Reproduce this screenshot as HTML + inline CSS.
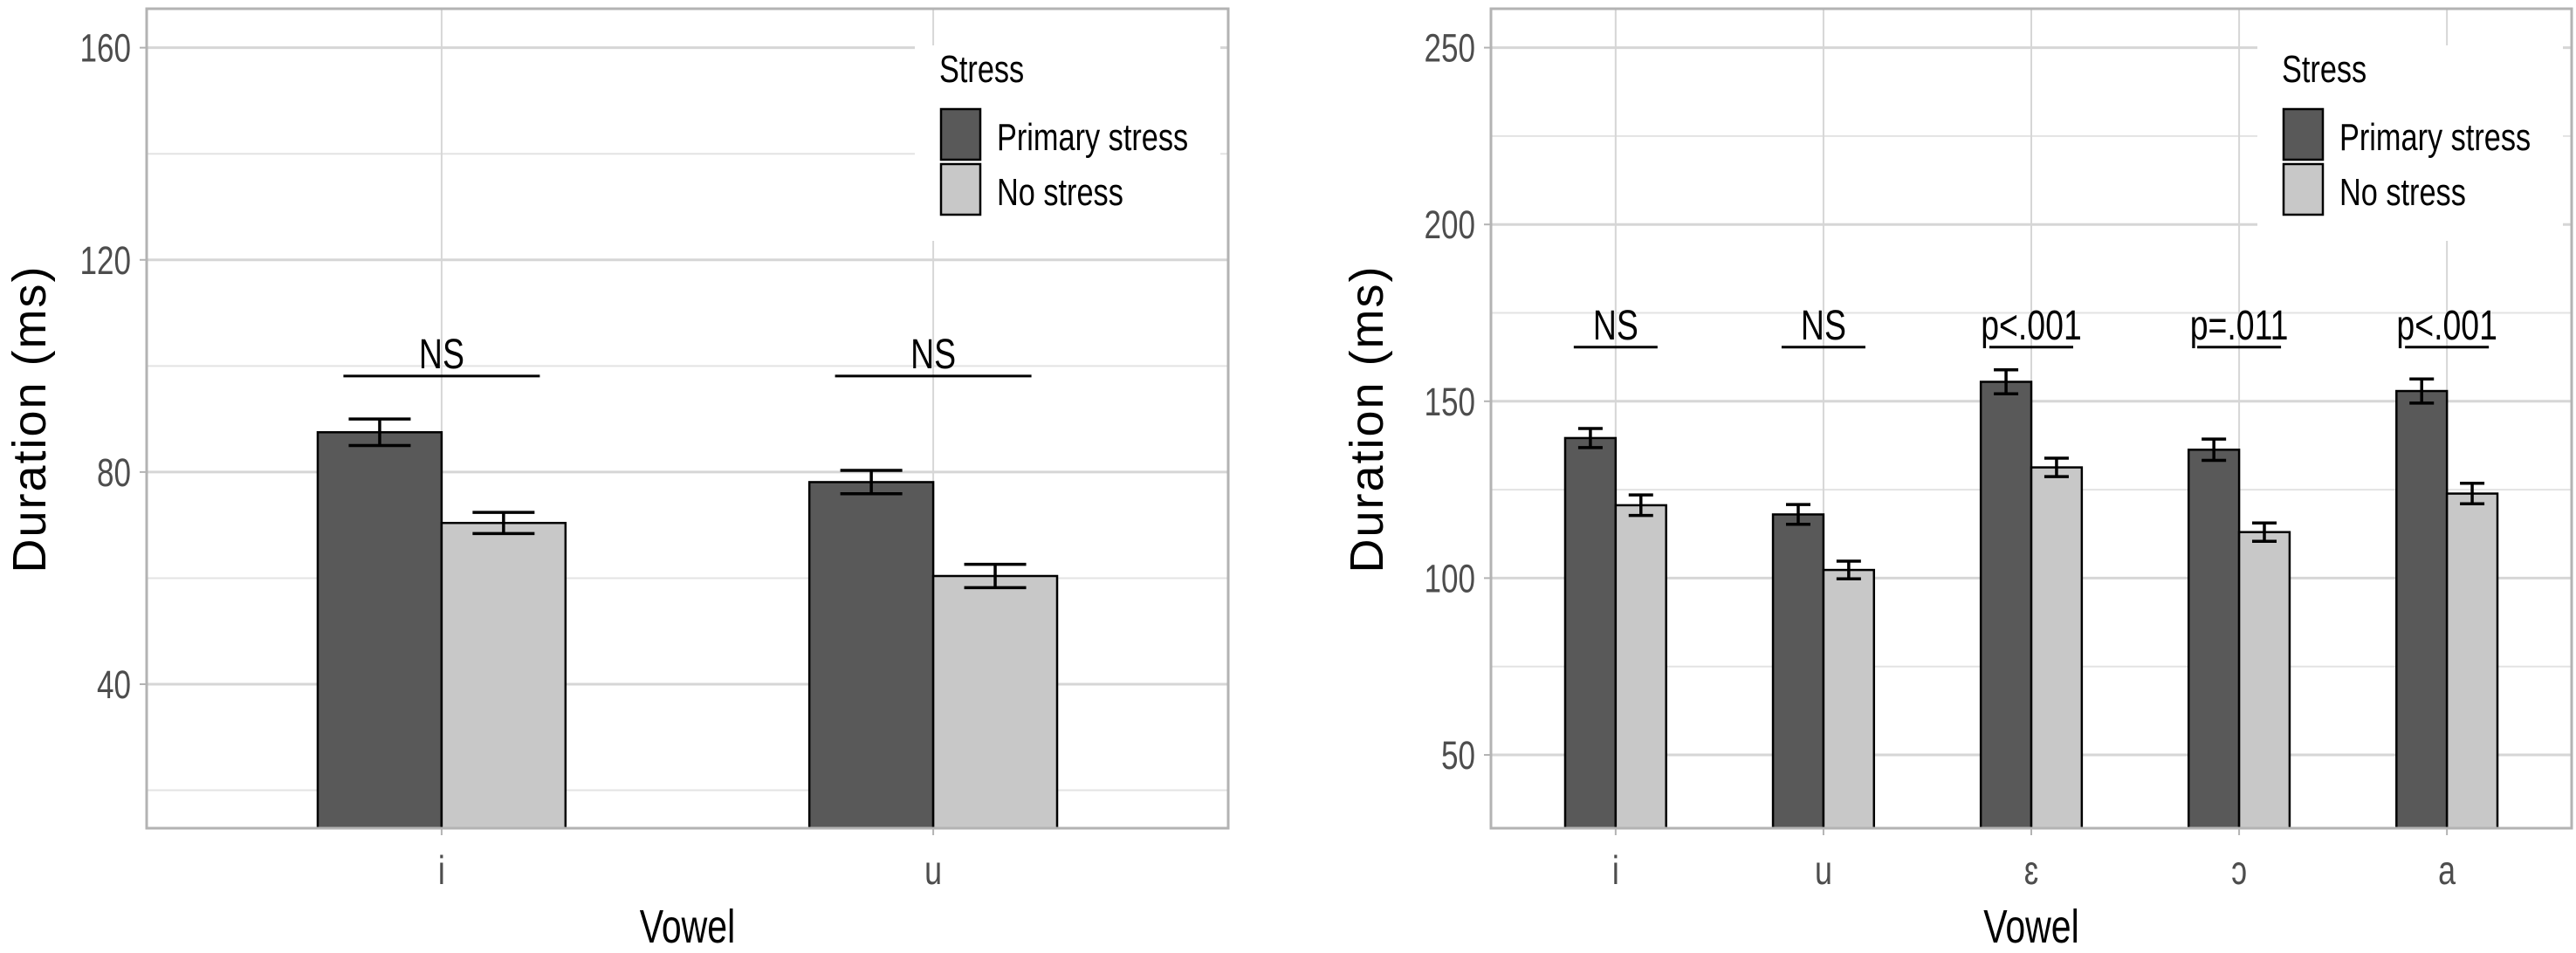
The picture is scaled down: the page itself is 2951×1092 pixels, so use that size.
<!DOCTYPE html>
<html><head><meta charset="utf-8"><style>
html,body{margin:0;padding:0;background:#fff;}
svg{display:block;font-family:"Liberation Sans",sans-serif;}
</style></head><body>
<svg id="chart" width="2951" height="1092" viewBox="0 0 2951 1092" xmlns="http://www.w3.org/2000/svg"></svg>
<script>
// Left panel data
const leftCategories = ["i", "u"];
const leftPrimary = [87.5, 78.1];
const leftPrimaryErr = [2.5, 2.2];
const leftNone = [70.4, 60.4];
const leftNoneErr = [2.0, 2.2];
const leftSigLabels = ["NS", "NS"];
const leftSigLevel = [98.1, 98.1];
const leftTicks = [40, 80, 120, 160];
const leftMinorTicks = [20, 60, 100, 140];

// Right panel data
const rightCategories = ["i", "u", "ɛ", "ɔ", "a"];
const rightPrimary = [139.6, 118.0, 155.5, 136.3, 152.9];
const rightPrimaryErr = [2.7, 2.8, 3.4, 3.0, 3.4];
const rightNone = [120.6, 102.3, 131.3, 113.0, 123.9];
const rightNoneErr = [2.9, 2.5, 2.6, 2.6, 2.9];
const rightSigLabels = ["NS", "NS", "p<.001", "p=.011", "p<.001"];
const rightSigLevel = [165.3, 165.3, 165.3, 165.3, 165.3];
const rightTicks = [50, 100, 150, 200, 250];
const rightMinorTicks = [75, 125, 175, 225];

const svg = document.getElementById('chart');
const NS = 'http://www.w3.org/2000/svg';
function mk(tag, attrs, parent) {
  const e = document.createElementNS(NS, tag);
  for (const k in attrs) e.setAttribute(k, attrs[k]);
  (parent || svg).appendChild(e);
  return e;
}
function txt(str, x, y, size, anchor, parent, sx) {
  const t = mk('text', {transform: `translate(${x},${y}) scale(${sx||0.78},1)`, 'font-size': size, 'text-anchor': anchor, fill: '#4d4d4d'}, parent);
  t.textContent = str;
  return t;
}

function panel(cfg) {
  const g = mk('g', {});
  
  
  const L = cfg.left, R = cfg.right, T = 10, B = 949;
  const n = cfg.cats.length;
  const unit = (R - L) / (n - 1 + 1.2);
  const xc = i => L + unit * (0.6 + i);
  const y = v => cfg.y0 - (v - cfg.v0) * cfg.ppu;
  // minor grid
  cfg.minor.forEach(v => {
    const l = mk('line', {x1: L, x2: R, y1: y(v), y2: y(v), stroke: '#e3e3e3', 'stroke-width': 2}, g);
    
    
  });
  // major grid + ticks
  cfg.ticks.forEach(v => {
    const l = mk('line', {x1: L, x2: R, y1: y(v), y2: y(v), stroke: '#d6d6d6', 'stroke-width': 3}, g);
    
    
    mk('line', {x1: L - 8, x2: L, y1: y(v), y2: y(v), stroke: '#b3b3b3', 'stroke-width': 2}, g);
    const t = txt(String(v), L - 18, y(v) + 16, 45, 'end', g);
    
    
  });
  cfg.cats.forEach((c, i) => {
    const l = mk('line', {x1: xc(i), x2: xc(i), y1: T, y2: B, stroke: '#d6d6d6', 'stroke-width': 2}, g);
    
    
    mk('line', {x1: xc(i), x2: xc(i), y1: B, y2: B + 8, stroke: '#b3b3b3', 'stroke-width': 2}, g);
    const t = txt(c, xc(i), 1013, 46, 'middle', g);
    
    
  });
  const bw = unit * cfg.bwFrac;
  const ew = cfg.ew;
  function bar(i, v, e, off, fill, nm) {
    const x0 = xc(i) + off * bw;
    const r = mk('rect', {x: x0, y: y(v), width: bw, height: B - y(v), fill: fill, stroke: '#000', 'stroke-width': 2.5}, g);
    
    
    const cx = x0 + bw / 2;
    const eg = mk('g', {stroke: '#000', 'stroke-width': 3.5}, g);
    
    
    mk('line', {x1: cx, x2: cx, y1: y(v + e), y2: y(v - e)}, eg);
    mk('line', {x1: cx - ew / 2, x2: cx + ew / 2, y1: y(v + e), y2: y(v + e)}, eg);
    mk('line', {x1: cx - ew / 2, x2: cx + ew / 2, y1: y(v - e), y2: y(v - e)}, eg);
  }
  cfg.cats.forEach((c, i) => {
    bar(i, cfg.prim[i], cfg.primErr[i], -1, '#595959', 'bar-primary-stress-' + c);
    bar(i, cfg.none[i], cfg.noneErr[i], 0, '#c8c8c8', 'bar-no-stress-' + c);
    const sl = mk('line', {x1: xc(i) - cfg.sigW / 2, x2: xc(i) + cfg.sigW / 2, y1: y(cfg.sigY[i]), y2: y(cfg.sigY[i]), stroke: '#000', 'stroke-width': 3}, g);
    
    
    const st = txt(cfg.sig[i], xc(i), y(cfg.sigY[i]) - 9, 48, 'middle', g);
    st.setAttribute('fill', '#000');
    
    
  });
  // border
  const br = mk('rect', {x: L, y: T, width: R - L, height: B - T, fill: 'none', stroke: '#b3b3b3', 'stroke-width': 3}, g);
  
  
  // legend
  const lg = mk('g', {}, g);
  
  
  const lx = cfg.legX;
  mk('rect', {x: lx - 28, y: 52, width: 350, height: 224, fill: '#fff'}, lg);
  const lt = txt('Stress', lx, 94, 44, 'start', lg);
  lt.setAttribute('fill', '#000');
  
  
  const k1 = mk('rect', {x: lx + 2, y: 125, width: 45, height: 58, fill: '#595959', stroke: '#000', 'stroke-width': 2.5}, lg);
  
  
  const k2 = mk('rect', {x: lx + 2, y: 188, width: 45, height: 58, fill: '#c8c8c8', stroke: '#000', 'stroke-width': 2.5}, lg);
  
  
  const e1 = txt('Primary stress', lx + 66, 172, 44, 'start', lg);
  e1.setAttribute('fill', '#000');
  
  
  const e2 = txt('No stress', lx + 66, 235, 44, 'start', lg);
  e2.setAttribute('fill', '#000');
  
  
  // axis titles
  const xt = txt('Vowel', (L + R) / 2, 1080, 54, 'middle', g, 0.76);
  xt.setAttribute('fill', '#000');
  
  
  const yt = mk('text', {transform: `translate(${cfg.ytX},480) rotate(-90)`, 'font-size': 54, 'text-anchor': 'middle', fill: '#000', 'letter-spacing': 2}, g);
  yt.textContent = 'Duration (ms)';
  
  
}

panel({name: 'left-panel', left: 168, right: 1407, cats: leftCategories, prim: leftPrimary, primErr: leftPrimaryErr,
  none: leftNone, noneErr: leftNoneErr, sig: leftSigLabels, sigY: leftSigLevel, ticks: leftTicks, minor: leftMinorTicks,
  y0: 784, v0: 40, ppu: 6.078, bwFrac: 0.252, ew: 71, sigW: 225, legX: 1076, ytX: 52});
panel({name: 'right-panel', left: 1708, right: 2946, cats: rightCategories, prim: rightPrimary, primErr: rightPrimaryErr,
  none: rightNone, noneErr: rightNoneErr, sig: rightSigLabels, sigY: rightSigLevel, ticks: rightTicks, minor: rightMinorTicks,
  y0: 865, v0: 50, ppu: 4.052, bwFrac: 0.243, ew: 28, sigW: 96, legX: 2614, ytX: 1584});
</script>
</body></html>
